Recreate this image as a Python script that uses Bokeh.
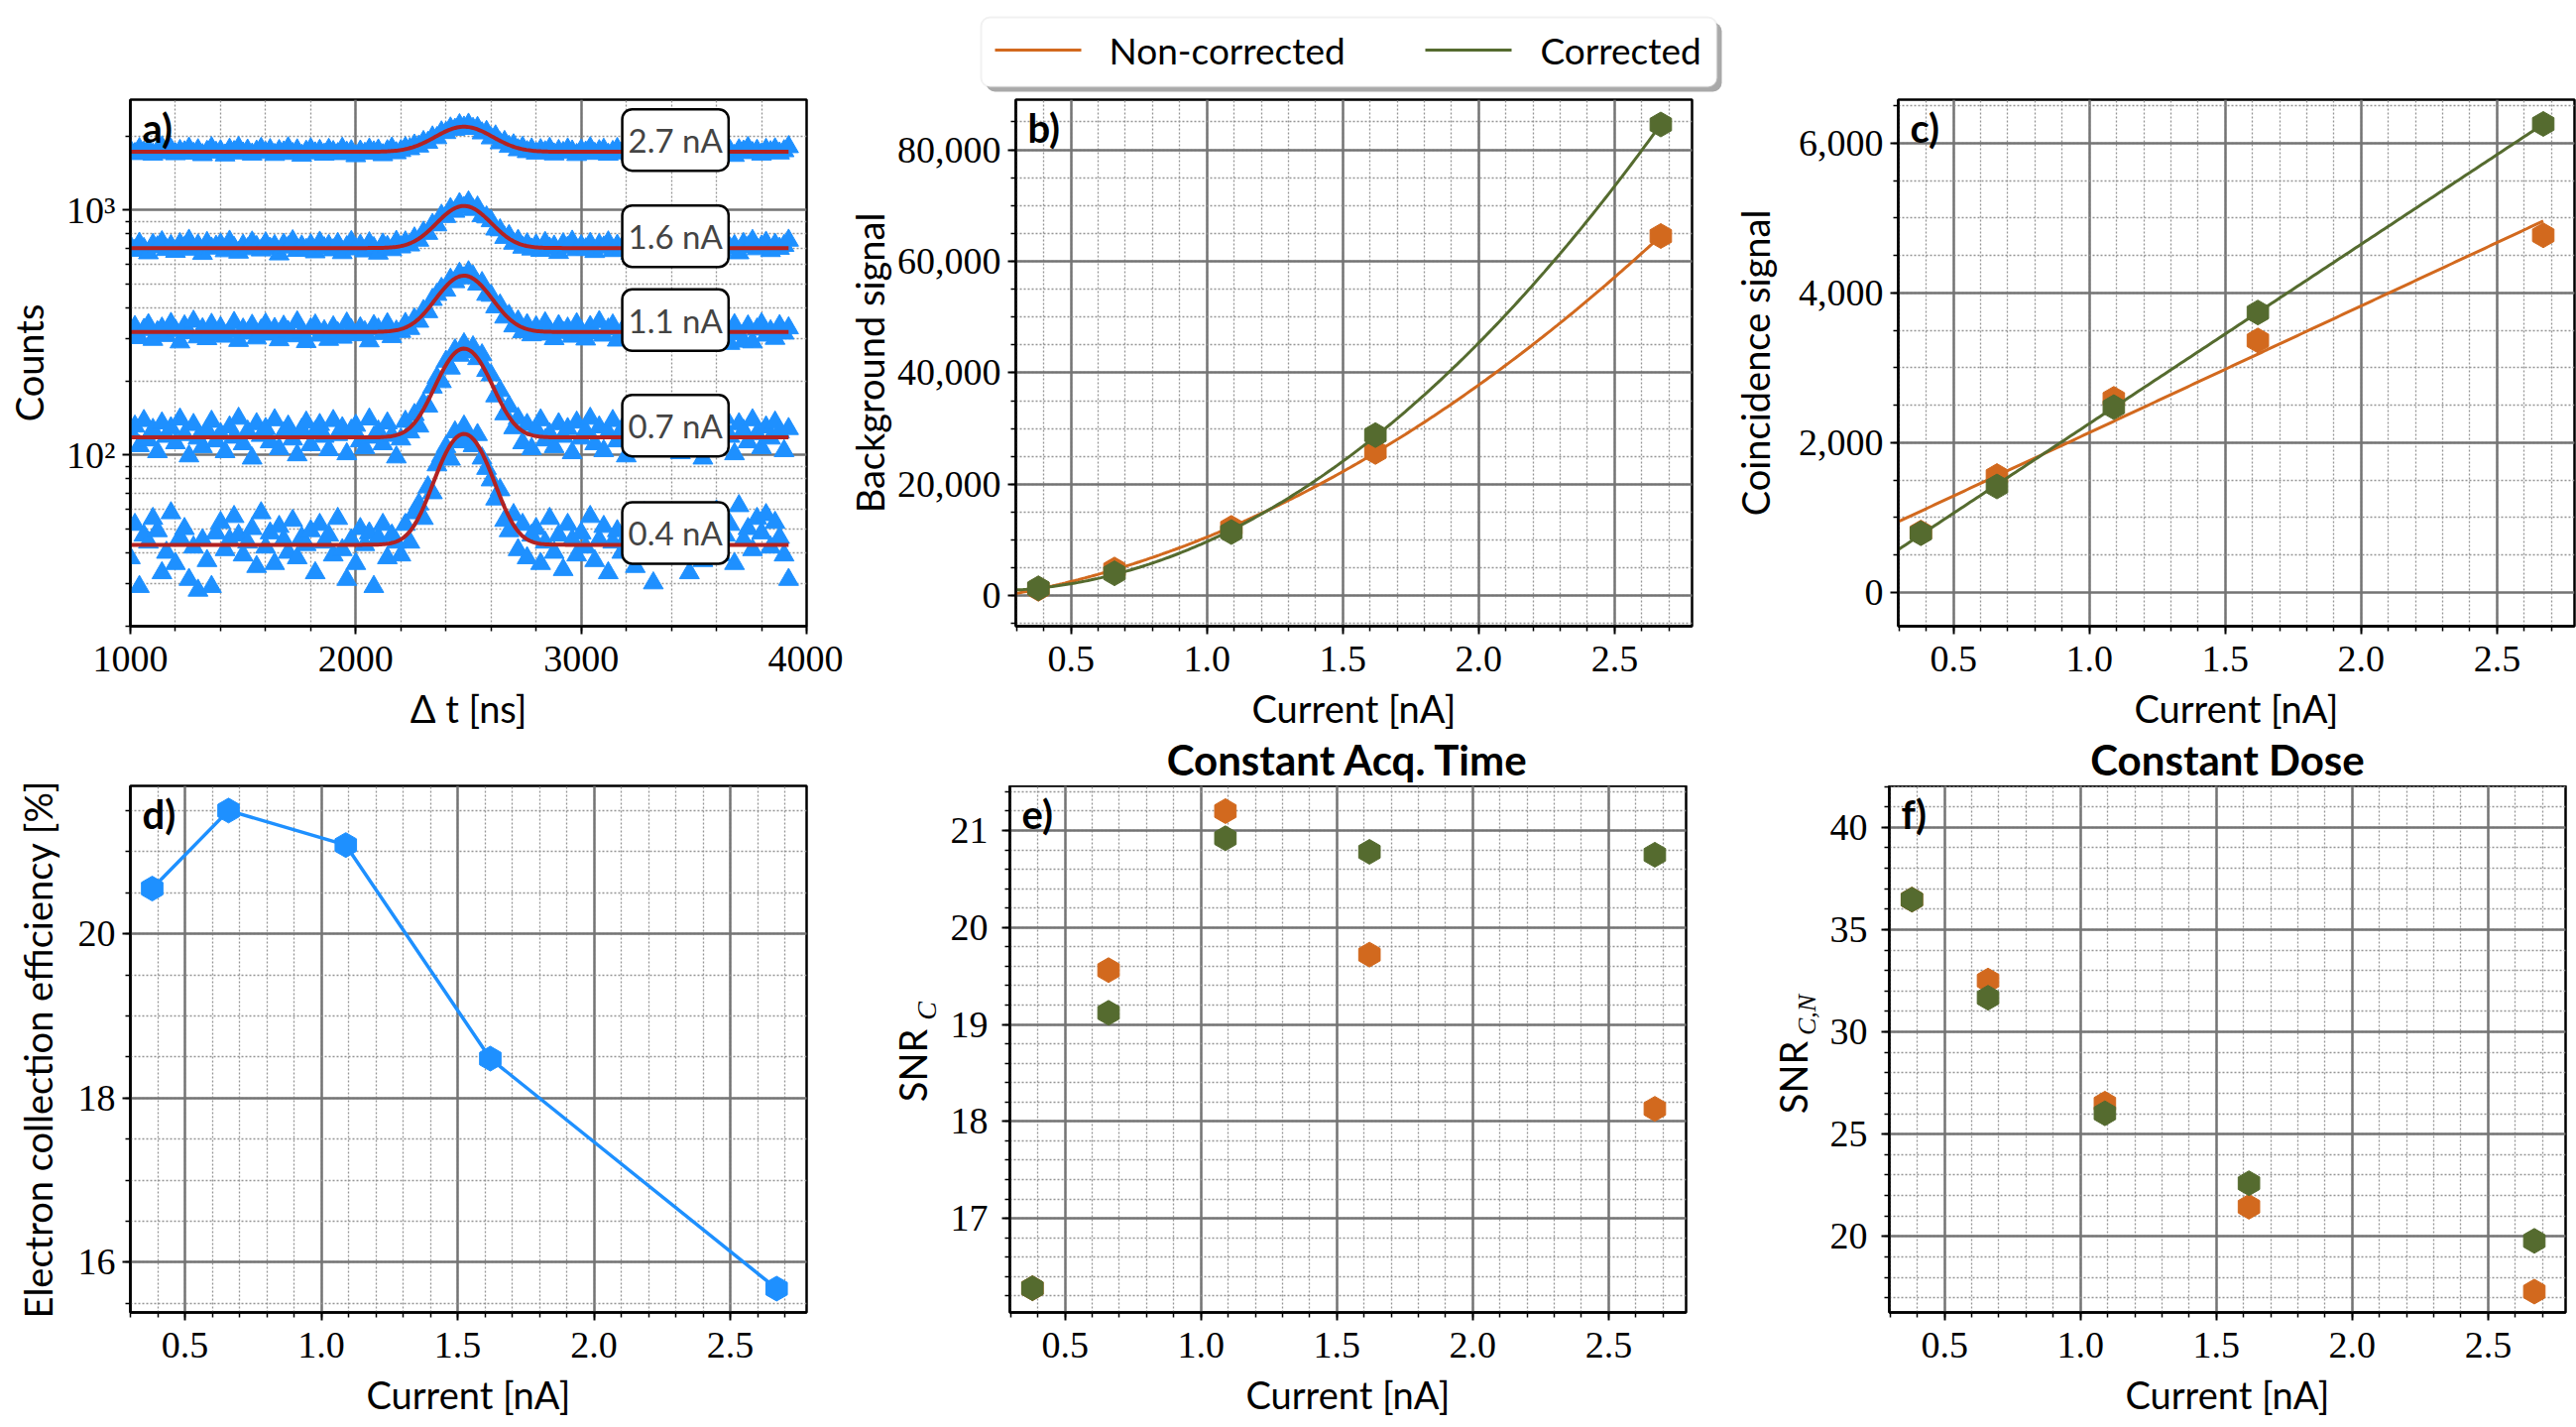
import numpy as np
from bokeh.plotting import figure
from bokeh.models import (Range1d, FixedTicker, Label, BoxAnnotation,
                          NumeralTickFormatter, PrintfTickFormatter)
from bokeh.layouts import row, column
from bokeh.embed import file_html
from bokeh.resources import INLINE

# ---------------- data ----------------
current = [0.38, 0.66, 1.09, 1.62, 2.67]
efficiency = [20.55, 21.50, 21.08, 18.48, 15.68]
bg_noncorr = [1250, 4706, 12185, 25798, 64538]
bg_corr = [1345, 4034, 11428, 28823, 84538]
coin_noncorr = [800, 1554, 2585, 3365, 4769]
coin_corr = [791, 1415, 2474, 3738, 6256]
snr_c_noncorr = [16.28, 19.56, 21.20, 19.72, 18.13]
snr_c_corr = [16.28, 19.12, 20.92, 20.78, 20.75]
snr_cn_noncorr = [36.47, 32.51, 26.49, 21.45, 17.30]
snr_cn_corr = [36.47, 31.67, 26.02, 22.60, 19.78]
legend_labels = ["Non-corrected", "Corrected"]

# panel a: coincidence histograms (20 ns bins starting at 1000 ns)
series_labels = ["2.7 nA", "1.6 nA", "1.1 nA", "0.7 nA", "0.4 nA"]
fit_base = [1730, 700, 318, 118, 43]
fit_amp = [460, 340, 222, 154, 79]
fit_sigma = [120, 110, 110, 105, 105]
fit_center = [2480, 2480, 2480, 2480, 2480]

counts_27 = [1752, 1698, 1779, 1721, 1764, 1689, 1741, 1808, 1712, 1770,
             1695, 1748, 1726, 1787, 1703, 1760, 1681, 1733, 1795, 1718,
             1744, 1676, 1769, 1729, 1801, 1707, 1755, 1690, 1738, 1783,
             1715, 1762, 1684, 1747, 1724, 1793, 1700, 1758, 1671, 1736,
             1776, 1709, 1750, 1688, 1767, 1730, 1697, 1785, 1719, 1743,
             1664, 1739, 1702, 1771, 1725, 1756, 1680, 1745, 1788, 1711,
             1747, 1795, 1778, 1839, 1822, 1901, 1887, 1985, 1972, 2081,
             2069, 2159, 2133, 2227, 2176, 2238, 2151, 2170, 2062, 2091,
             1968, 2004, 1880, 1902, 1817, 1843, 1760, 1801, 1729, 1772,
             1706, 1761, 1727, 1784, 1692, 1748, 1716, 1773, 1739, 1683,
             1757, 1722, 1794, 1701, 1745, 1768, 1687, 1731, 1780, 1708,
             1749, 1693, 1766, 1727, 1804, 1714, 1740, 1678, 1762, 1735,
             1699, 1774, 1720, 1753, 1686, 1790, 1731, 1710, 1765, 1742,
             1704, 1781, 1725, 1748, 1669, 1759, 1737, 1797, 1713, 1751,
             1690, 1766, 1728, 1775, 1707, 1744, 1812]
counts_16 = [712, 684, 731, 695, 668, 723, 706, 741, 689, 715,
             677, 728, 703, 752, 691, 719, 664, 736, 698, 710,
             726, 681, 745, 702, 672, 718, 694, 739, 708, 686,
             733, 697, 715, 661, 724, 705, 748, 683, 712, 690,
             721, 674, 738, 700, 716, 687, 729, 669, 707, 742,
             693, 718, 680, 734, 701, 666, 725, 709, 688, 744,
             706, 740, 719, 768, 752, 811, 802, 872, 869, 951,
             940, 1012, 987, 1061, 1023, 1078, 1005, 1027, 948, 936,
             903, 835, 829, 772, 786, 731, 751, 704, 727, 692,
             719, 683, 736, 698, 711, 670, 727, 704, 745, 688,
             714, 693, 730, 676, 722, 705, 740, 682, 717, 699,
             731, 665, 709, 748, 690, 723, 678, 714, 739, 696,
             707, 727, 684, 718, 701, 745, 673, 712, 692, 733,
             720, 687, 741, 699, 715, 668, 729, 706, 750, 694,
             711, 738, 682, 724, 697, 716, 752]
counts_11 = [312, 334, 301, 325, 340, 296, 318, 329, 307, 344,
             322, 289, 336, 315, 351, 303, 327, 298, 341, 310,
             331, 305, 320, 347, 293, 326, 314, 338, 300, 323,
             342, 311, 328, 295, 335, 319, 306, 349, 317, 290,
             327, 339, 308, 321, 296, 333, 315, 302, 345, 324,
             309, 330, 318, 292, 337, 326, 313, 343, 304, 320,
             319, 344, 328, 359, 351, 388, 384, 431, 452, 478,
             470, 521, 509, 551, 528, 559, 537, 498, 505, 452,
             448, 402, 409, 365, 371, 336, 352, 318, 340, 309,
             333, 311, 346, 322, 298, 337, 316, 329, 305, 343,
             321, 297, 334, 314, 350, 308, 326, 339, 294, 319,
             331, 313, 302, 345, 320, 288, 335, 317, 327, 299,
             341, 315, 324, 292, 338, 310, 329, 347, 303, 322,
             296, 333, 318, 285, 340, 312, 291, 336, 289, 326,
             343, 308, 321, 299, 337, 314, 330]
counts_07 = [124, 131, 109, 138, 115, 127, 103, 135, 119, 129,
             112, 140, 121, 99, 133, 117, 108, 126, 137, 114,
             122, 103, 130, 118, 141, 111, 125, 97, 134, 120,
             128, 113, 139, 106, 123, 131, 116, 100, 127, 136,
             110, 124, 133, 119, 105, 138, 121, 129, 101, 126,
             132, 114, 107, 140, 118, 125, 111, 135, 120, 98,
             116, 137, 124, 146, 131, 162, 158, 189, 207, 199,
             241, 226, 268, 255, 284, 263, 276, 247, 256, 221,
             212, 174, 183, 147, 158, 129, 141, 112, 133, 106,
             127, 139, 115, 122, 108, 134, 119, 128, 102, 136,
             117, 125, 141, 111, 130, 104, 123, 138, 114, 127,
             99, 132, 120, 109, 136, 125, 113, 140, 106, 129,
             118, 131, 102, 127, 137, 115, 124, 97, 133, 121,
             110, 128, 142, 119, 101, 134, 126, 113, 139, 122,
             107, 130, 117, 136, 124, 104, 128]
counts_04 = [38, 52, 29, 47, 44, 55, 49, 33, 40, 58,
             36, 46, 50, 31, 42, 28, 45, 37, 29, 48,
             53, 41, 45, 56, 47, 39, 44, 50, 35, 58,
             42, 48, 36, 51, 45, 40, 54, 38, 46, 43,
             49, 33, 52, 44, 47, 39, 55, 41, 31, 45,
             36, 50, 43, 48, 29, 46, 52, 38, 47, 44,
             39, 52, 44, 58, 63, 55, 74, 70, 91, 99,
             108, 96, 124, 113, 131, 117, 109, 121, 97, 88,
             79, 66, 72, 54, 49, 57, 41, 52, 38, 47,
             50, 36, 44, 55, 40, 47, 34, 52, 45, 39,
             48, 42, 56, 37, 45, 51, 33, 44, 49, 40,
             46, 53, 35, 42, 58, 44, 30, 47, 51, 38,
             44, 56, 41, 48, 33, 50, 45, 37, 54, 43,
             59, 39, 47, 52, 36, 62, 45, 50, 41, 55,
             48, 57, 42, 53, 46, 39, 31]
all_counts = [counts_27, counts_16, counts_11, counts_07, counts_04]
bin_start, bin_width = 1000, 20

# ---------------- style ----------------
SANS = "Lato"
SERIF = "Liberation Serif"
BLUE = "#1E90FF"
ORANGE = "#D2691E"
GREEN = "#556B2F"
RED = "#B22222"
FW, FH = 682, 531
HALF_PI = np.pi / 2
STRIP_H = 97      # legend strip on top of the page
TOP1 = 3          # top border of the first row
BOTTOM1 = 104     # bottom border of the first row
TITLE_H = 53      # title strip of the second row
BOTTOM2 = 112     # bottom border of the second row
LEFT_A = 131
RIGHT_A = 37
LEFT_B = 168
LAB_W = 105
TOTAL_W = (LEFT_A + FW + RIGHT_A) + (LEFT_B + FW + RIGHT_A) + (LEFT_B + FW + 2)


def make_fig(x_range, y_range, left, right, top, bottom, y_axis_type="linear"):
    p = figure(frame_width=FW, frame_height=FH, x_range=x_range, y_range=y_range,
               y_axis_type=y_axis_type, min_border_left=left, min_border_right=right,
               min_border_top=top, min_border_bottom=bottom,
               output_backend="svg", toolbar_location=None,
               background_fill_color="white", border_fill_color="white")
    p.outline_line_color = "black"
    p.outline_line_width = 2.5
    p.outline_line_alpha = 1.0
    for ax in (p.xaxis[0], p.yaxis[0]):
        ax.axis_line_width = 2.5
        ax.axis_line_color = "black"
        ax.major_tick_line_width = 2
        ax.minor_tick_line_width = 1.5
        ax.major_tick_out = 8
        ax.major_tick_in = 0
        ax.minor_tick_out = 5
        ax.minor_tick_in = 0
        ax.major_label_text_font = SERIF
        ax.major_label_text_font_size = "38px"
        ax.major_label_text_color = "black"
        ax.axis_label_text_font = SANS
        ax.axis_label_text_font_size = "38px"
        ax.axis_label_text_font_style = "normal"
        ax.axis_label_text_color = "black"
    p.xaxis.major_label_standoff = 12
    p.yaxis.major_label_standoff = 7
    p.xaxis.axis_label_standoff = 11
    for g in (p.xgrid[0], p.ygrid[0]):
        g.grid_line_color = "#747474"
        g.grid_line_width = 2.5
        g.minor_grid_line_color = "#959595"
        g.minor_grid_line_width = 1.3
        g.minor_grid_line_dash = "2 2"
    return p


def blank_fig(width, height):
    p = figure(width=width, height=height, x_range=Range1d(0, width), y_range=Range1d(0, height),
               x_axis_type=None, y_axis_type=None, min_border=0,
               output_backend="svg", toolbar_location=None,
               background_fill_color="white", border_fill_color="white")
    p.outline_line_color = None
    p.grid.visible = False
    return p


def txt(p, x, y, text, size, font=SANS, style="normal", angle=0.0,
        align="center", baseline="middle"):
    p.add_layout(Label(x=x, y=y, x_units="screen", y_units="screen", text=text,
                       text_font=font, text_font_size=f"{size}px", text_font_style=style,
                       angle=angle, text_align=align, text_baseline=baseline,
                       text_color="black"))


def panel_letter(p, letter):
    txt(p, 12, FH - 4, letter, 40, style="bold", align="left", baseline="top")


def current_axis(p):
    p.xaxis.ticker = FixedTicker(ticks=[0.5, 1.0, 1.5, 2.0, 2.5],
                                 minor_ticks=list(np.round(np.arange(0.3, 2.81, 0.1), 2)))
    p.xaxis.formatter = PrintfTickFormatter(format="%.1f")
    p.xaxis.axis_label = "Current [nA]"


CUR_RANGE = (0.297, 2.785)
fit_x = np.linspace(0.3, 2.67, 200)

# ---------------- legend strip (page-wide, above panel b) ----------------
strip = blank_fig(TOTAL_W, STRIP_H)
LEG_L, LEG_R = 989, 1731
LEG_T, LEG_B = STRIP_H - 17, STRIP_H - 87
LEG_MID = STRIP_H - 50
strip.add_layout(BoxAnnotation(left=LEG_L + 5, right=LEG_R + 5, bottom=LEG_B - 5, top=LEG_T - 5,
                               left_units="screen", right_units="screen",
                               bottom_units="screen", top_units="screen",
                               fill_color="#a9a9a9", fill_alpha=1.0, line_color=None,
                               border_radius=9, level="underlay"))
strip.add_layout(BoxAnnotation(left=LEG_L, right=LEG_R, bottom=LEG_B, top=LEG_T,
                               left_units="screen", right_units="screen",
                               bottom_units="screen", top_units="screen",
                               fill_color="white", fill_alpha=1.0, line_color="#cfcfcf",
                               line_width=2, border_radius=9, level="underlay"))
key_starts = [1003, 1437]
text_starts = [1118, 1553]
KEY_W = 87
for colr, k0, t0, lab in zip([ORANGE, GREEN], key_starts, text_starts, legend_labels):
    strip.line([k0, k0 + KEY_W], [LEG_MID, LEG_MID], color=colr, line_width=3)
    txt(strip, t0, LEG_MID, lab, 37, align="left")

# ---------------- panel a ----------------
fa = make_fig(Range1d(1000, 4000), Range1d(20, 2825), LEFT_A, RIGHT_A, TOP1, BOTTOM1,
              y_axis_type="log")
fa.xaxis.ticker = FixedTicker(ticks=[1000, 2000, 3000, 4000],
                              minor_ticks=list(range(1000, 4001, 200)))
fa.yaxis.ticker = FixedTicker(ticks=[100, 1000],
                              minor_ticks=[20, 30, 40, 50, 60, 70, 80, 90,
                                           200, 300, 400, 500, 600, 700, 800, 900, 2000])
fa.yaxis.major_label_overrides = {100: "10²", 1000: "10³"}
fa.xaxis.axis_label = "Δ t [ns]"
fa.yaxis.axis_label = "Counts"
fa.yaxis.axis_label_standoff = 12
for cnt in all_counts:
    t = bin_start + bin_width * np.arange(len(cnt))
    fa.scatter(t, cnt, marker="triangle", size=20, color=BLUE, line_color=BLUE)
tfit = np.linspace(1000, 3920, 400)
for lab, b, a, s, c in zip(series_labels, fit_base, fit_amp, fit_sigma, fit_center):
    fa.line(tfit, b + a * np.exp(-(tfit - c) ** 2 / (2 * s ** 2)), color=RED, line_width=4)
for lab, b in zip(series_labels, fit_base):
    fa.add_layout(Label(x=3418, y=b * 1.118, text=lab, text_font=SANS, text_font_size="33px",
                        text_align="center", text_baseline="middle",
                        background_fill_color="white", background_fill_alpha=1.0,
                        border_line_color="black", border_line_width=2.5,
                        border_radius=10, padding=(6, 11)))
panel_letter(fa, "a)")

# ---------------- panel b ----------------
fb = make_fig(Range1d(*CUR_RANGE), Range1d(-5462, 88991), LEFT_B, RIGHT_A, TOP1, BOTTOM1)
current_axis(fb)
fb.yaxis.ticker = FixedTicker(ticks=[0, 20000, 40000, 60000, 80000],
                              minor_ticks=list(range(-5000, 85001, 5000)))
fb.yaxis.formatter = NumeralTickFormatter(format="0,0")
fb.yaxis.axis_label = "Background signal"
fb.yaxis.axis_label_standoff = 2
pb_nc = np.polyfit(current, bg_noncorr, 2)
pb_c = np.polyfit(current, bg_corr, 2)
fb.line(fit_x, np.polyval(pb_nc, fit_x), color=ORANGE, line_width=3)
fb.scatter(current, bg_noncorr, marker="hex", angle=HALF_PI, size=25, color=ORANGE)
fb.line(fit_x, np.polyval(pb_c, fit_x), color=GREEN, line_width=3)
fb.scatter(current, bg_corr, marker="hex", angle=HALF_PI, size=25, color=GREEN)
panel_letter(fb, "b)")

# ---------------- panel c ----------------
fc = make_fig(Range1d(*CUR_RANGE), Range1d(-451, 6580), LEFT_B, 2, TOP1, BOTTOM1)
current_axis(fc)
fc.yaxis.ticker = FixedTicker(ticks=[0, 2000, 4000, 6000],
                              minor_ticks=list(range(500, 6501, 500)))
fc.yaxis.formatter = NumeralTickFormatter(format="0,0")
fc.yaxis.axis_label = "Coincidence signal"
fc.yaxis.axis_label_standoff = 18
pc_nc = np.polyfit(current, coin_noncorr, 1)
pc_c = np.polyfit(current, coin_corr, 1)
fc.line(fit_x, np.polyval(pc_nc, fit_x), color=ORANGE, line_width=3)
fc.scatter(current, coin_noncorr, marker="hex", angle=HALF_PI, size=25, color=ORANGE)
fc.line(fit_x, np.polyval(pc_c, fit_x), color=GREEN, line_width=3)
fc.scatter(current, coin_corr, marker="hex", angle=HALF_PI, size=25, color=GREEN)
panel_letter(fc, "c)")

# ---------------- panel d ----------------
fd = make_fig(Range1d(0.30, 2.78), Range1d(15.39, 21.80), LEFT_A, RIGHT_A, TITLE_H, BOTTOM2)
current_axis(fd)
fd.yaxis.ticker = FixedTicker(ticks=[16, 18, 20],
                              minor_ticks=list(np.arange(15.5, 21.6, 0.5)))
fd.yaxis.axis_label = "Electron collection efficiency [%]"
fd.yaxis.axis_label_standoff = 15
fd.line(current, efficiency, color=BLUE, line_width=3.5)
fd.scatter(current, efficiency, marker="hex", angle=HALF_PI, size=25, color=BLUE)
panel_letter(fd, "d)")

LAB_H = FH + BOTTOM2
LEFT_EF = LEFT_B - LAB_W

# ---------------- panel e ----------------
fe = make_fig(Range1d(*CUR_RANGE), Range1d(16.03, 21.46), LEFT_EF, RIGHT_A, 0, BOTTOM2)
current_axis(fe)
fe.yaxis.major_label_standoff = 14
fe.yaxis.ticker = FixedTicker(ticks=[17, 18, 19, 20, 21],
                              minor_ticks=list(np.round(np.arange(16.2, 21.45, 0.2), 2)))
fe.scatter(current, snr_c_noncorr, marker="hex", angle=HALF_PI, size=25, color=ORANGE)
fe.scatter(current, snr_c_corr, marker="hex", angle=HALF_PI, size=25, color=GREEN)
panel_letter(fe, "e)")
# label strip left of panel e (its frame is aligned with panel e's frame)
lab_e = blank_fig(LAB_W, LAB_H)
txt(lab_e, 69, 249, "SNR", 38, angle=HALF_PI)
txt(lab_e, 84, 304, "C", 28, font=SERIF, style="italic", angle=HALF_PI)
tit_e = blank_fig(LEFT_B + FW + RIGHT_A, TITLE_H)
txt(tit_e, LEFT_B + FW / 2, 27, "Constant Acq. Time", 42, style="bold")

# ---------------- panel f ----------------
ff = make_fig(Range1d(*CUR_RANGE), Range1d(16.28, 42.03), LEFT_EF, 2, 0, BOTTOM2)
current_axis(ff)
ff.yaxis.major_label_standoff = 14
ff.yaxis.ticker = FixedTicker(ticks=[20, 25, 30, 35, 40],
                              minor_ticks=list(range(17, 43)))
ff.scatter(current, snr_cn_noncorr, marker="hex", angle=HALF_PI, size=25, color=ORANGE)
ff.scatter(current, snr_cn_corr, marker="hex", angle=HALF_PI, size=25, color=GREEN)
panel_letter(ff, "f)")
lab_f = blank_fig(LAB_W, LAB_H)
txt(lab_f, 70, 237, "SNR", 38, angle=HALF_PI)
txt(lab_f, 85, 300, "C,N", 26, font=SERIF, style="italic", angle=HALF_PI)
tit_f = blank_fig(LEFT_B + FW + 2, TITLE_H)
txt(tit_f, LEFT_B + FW / 2, 27, "Constant Dose", 42, style="bold")

layout = column(
    strip,
    row(fa, fb, fc),
    row(fd, column(tit_e, row(lab_e, fe)), column(tit_f, row(lab_f, ff))),
)
open("out.html", "w").write(file_html(layout, INLINE))
